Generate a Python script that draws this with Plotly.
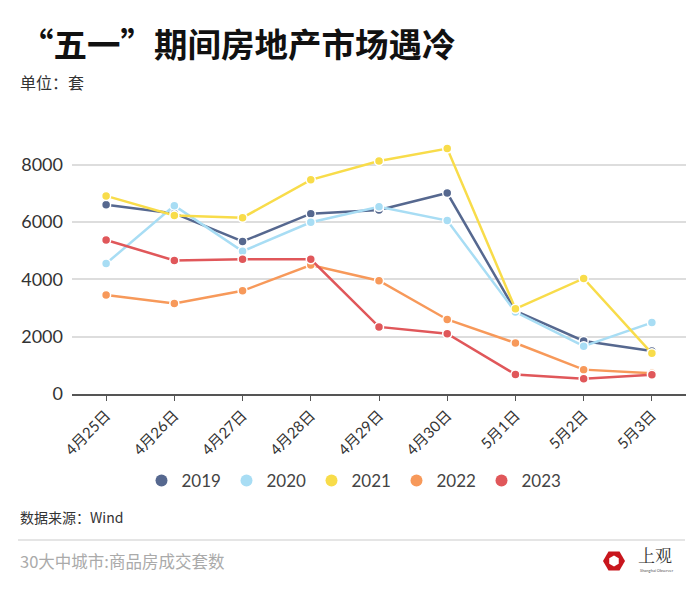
import plotly.graph_objects as go
import math

categories = ["4月25日", "4月26日", "4月27日", "4月28日", "4月29日", "4月30日", "5月1日", "5月2日", "5月3日"]
series_names = ["2019", "2020", "2021", "2022", "2023"]
v2019 = [6600, 6300, 5320, 6290, 6420, 7010, 2900, 1850, 1500]
v2020 = [4550, 6570, 4980, 5990, 6530, 6050, 2860, 1670, 2490]
v2021 = [6910, 6230, 6150, 7470, 8130, 8560, 2970, 4030, 1420]
v2022 = [3450, 3160, 3600, 4500, 3950, 2600, 1780, 850, 720]
v2023 = [5370, 4660, 4700, 4700, 2340, 2100, 680, 530, 670]
colors = ["#56688f", "#a8ddf4", "#f8dc4a", "#f7995a", "#e0575a"]
yticks = [0, 2000, 4000, 6000, 8000]

FONT = "Lato, 'Noto Sans CJK SC', sans-serif"
CJK = "'Noto Sans CJK SC', sans-serif"

fig = go.Figure()
for name, vals, col in zip(series_names, [v2019, v2020, v2021, v2022, v2023], colors):
    fig.add_trace(go.Scatter(
        x=categories, y=vals, name=name, mode="lines+markers", showlegend=False,
        line=dict(color=col, width=2.5),
        marker=dict(color=col, size=9, line=dict(color="white", width=1.5)),
    ))
# legend entries (circle symbols only)
for name, col in zip(series_names, colors):
    fig.add_trace(go.Scatter(
        x=[None], y=[None], name=name, mode="markers", showlegend=True,
        marker=dict(color=col, size=14),
    ))

# plot area: x 72..686, y 136..394
L, R, T, B = 72, 14, 136, 201
W, H = 700, 595
pw, ph = W - L - R, H - T - B


def px(x):
    return (x - L) / pw


def py(y):
    return (H - B - y) / ph


fig.update_layout(
    width=W, height=H,
    margin=dict(l=L, r=R, t=T, b=B),
    paper_bgcolor="white", plot_bgcolor="white",
    font=dict(family=FONT, color="#333333"),
    showlegend=True,
    legend=dict(orientation="h", x=px(354), xanchor="center", y=py(481), yanchor="middle",
                font=dict(size=17, color="#444444", family=FONT), itemsizing="constant",
                traceorder="normal", itemwidth=30, entrywidth=40),
    xaxis=dict(type="category", range=[-0.5, 8.5], showline=True, linecolor="#555555", linewidth=1.5,
               ticks="outside", ticklen=5, tickcolor="#555555", tickangle=-45,
               tickfont=dict(size=15, color="#333333", family=FONT), showgrid=False, zeroline=False),
    yaxis=dict(range=[0, 9000], tickvals=yticks, showgrid=True, gridcolor="#dddddd", gridwidth=1.5,
               zeroline=False, tickfont=dict(size=18, color="#333333", family=FONT), ticks="",
               ticklabelstandoff=8),
)

ann = [
    dict(text="<b>“五一”期间房地产市场遇冷</b>", x=px(18), y=py(42), xanchor="left", yanchor="middle",
         font=dict(size=33.5, color="#111111", family=CJK)),
    dict(text="单位：套", x=px(18), y=py(82), xanchor="left", yanchor="middle",
         font=dict(size=16, color="#333333", family=CJK)),
    dict(text="数据来源：Wind", x=px(18), y=py(517), xanchor="left", yanchor="middle",
         font=dict(size=14, color="#333333", family=CJK)),
    dict(text="30大中城市:商品房成交套数", x=px(18), y=py(561), xanchor="left", yanchor="middle",
         font=dict(size=16.5, color="#aaaaaa", family=CJK)),
    dict(text="上观", x=px(636), y=py(554), xanchor="left", yanchor="middle",
         font=dict(size=17, color="#333333", family="'Noto Serif CJK SC', 'Noto Sans CJK SC', serif")),
    dict(text="Shanghai Observer", x=px(638), y=py(570), xanchor="left", yanchor="middle",
         font=dict(size=4, color="#555555", family=FONT)),
]
for a in ann:
    a.update(xref="paper", yref="paper", showarrow=False)
    fig.add_annotation(**a)

fig.add_shape(type="line", xref="paper", yref="paper", x0=px(18), x1=px(685), y0=py(540), y1=py(540),
              line=dict(color="#dddddd", width=1.5))


def hexpath(cx, cy, r, rot=0):
    pts = []
    for k in range(6):
        ang = math.radians(60 * k + rot)
        pts.append((px(cx + r * math.cos(ang)), py(cy + r * math.sin(ang))))
    return "M " + " L ".join(f"{x:.5f},{y:.5f}" for x, y in pts) + " Z"


fig.add_shape(type="path", xref="paper", yref="paper", path=hexpath(614, 561, 11, 0),
              fillcolor="#c8161d", line=dict(width=0))
fig.add_shape(type="path", xref="paper", yref="paper", path=hexpath(614, 561, 5.5, 30),
              fillcolor="white", line=dict(width=0))

fig.write_html("out.html", config={"displayModeBar": False},
               post_script="document.body.style.margin='0';")
